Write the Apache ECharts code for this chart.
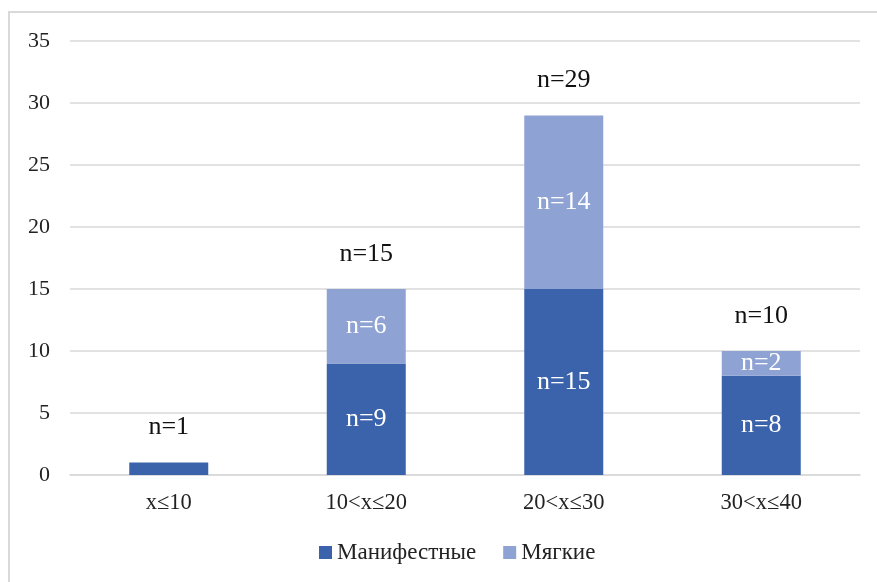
<!DOCTYPE html>
<html>
<head>
<meta charset="utf-8">
<script src="https://cdn.jsdelivr.net/npm/echarts@6/dist/echarts.min.js"></script>
<style>
  html, body { margin: 0; padding: 0; background: #fff; }
  #wrap { position: relative; width: 877px; height: 582px; overflow: hidden; }
  #chart { width: 877px; height: 582px; }
  #frame {
    position: absolute; left: 8px; top: 11px; width: 900px; height: 600px;
    border-left: 2px solid #d9d9d9; border-top: 2px solid #d9d9d9;
    pointer-events: none;
  }
</style>
</head>
<body>
<div id="wrap">
  <div id="chart"></div>
  <div id="frame"></div>
</div>
<script>
// Age groups on the x axis
const categories = ['x≤10', '10<x≤20', '20<x≤30', '30<x≤40'];
// Counts per group
const manifest = [1, 9, 15, 8];
const mild = [0, 6, 14, 2];
const totals = [1, 15, 29, 10];
// Value axis
const yMin = 0;
const yMax = 35;
const yStep = 5;

const seriesNames = ['Манифестные', 'Мягкие'];
const FONT = 'Liberation Serif';
const DARK = '#3A63AB';
const LIGHT = '#8EA2D3';

const chart = echarts.init(document.getElementById('chart'), null, { renderer: 'canvas' });

const innerLabel = {
  show: true, position: 'inside', color: '#ffffff', fontFamily: FONT, fontSize: 26,
  formatter: p => (p.value > 1 ? 'n=' + p.value : '')
};

chart.setOption({
  animation: false,
  backgroundColor: '#ffffff',
  grid: { left: 70, right: 17, top: 41, bottom: 107 },
  legend: {
    data: seriesNames,
    bottom: 13,
    left: 314,
    itemWidth: 13,
    itemHeight: 13,
    itemGap: 27,
    icon: 'rect',
    textStyle: { fontFamily: FONT, fontSize: 23, color: '#222' }
  },
  xAxis: {
    type: 'category',
    data: categories,
    axisLine: { show: true, lineStyle: { color: '#d9d9d9', width: 1.5 } },
    axisTick: { show: false },
    axisLabel: { fontFamily: FONT, fontSize: 22.5, color: '#222', margin: 17 }
  },
  yAxis: {
    type: 'value',
    min: yMin,
    max: yMax,
    interval: yStep,
    axisLine: { show: false },
    axisTick: { show: false },
    splitLine: { lineStyle: { color: '#d9d9d9', width: 1.5 } },
    axisLabel: { fontFamily: FONT, fontSize: 22, color: '#222', margin: 20 }
  },
  series: [
    {
      name: seriesNames[0],
      type: 'bar',
      stack: 'all',
      barWidth: '40%',
      data: manifest,
      itemStyle: { color: DARK },
      label: innerLabel
    },
    {
      name: seriesNames[1],
      type: 'bar',
      stack: 'all',
      barWidth: '40%',
      data: mild,
      itemStyle: { color: LIGHT },
      label: innerLabel
    },
    {
      name: 'total',
      type: 'bar',
      barWidth: '40%',
      barGap: '-100%',
      data: totals,
      itemStyle: { color: 'rgba(0,0,0,0)' },
      silent: true,
      z: 0,
      label: {
        show: true,
        position: 'top',
        distance: 22,
        color: '#111',
        fontFamily: FONT,
        fontSize: 26,
        formatter: p => 'n=' + p.value
      }
    }
  ]
});
</script>
</body>
</html>
